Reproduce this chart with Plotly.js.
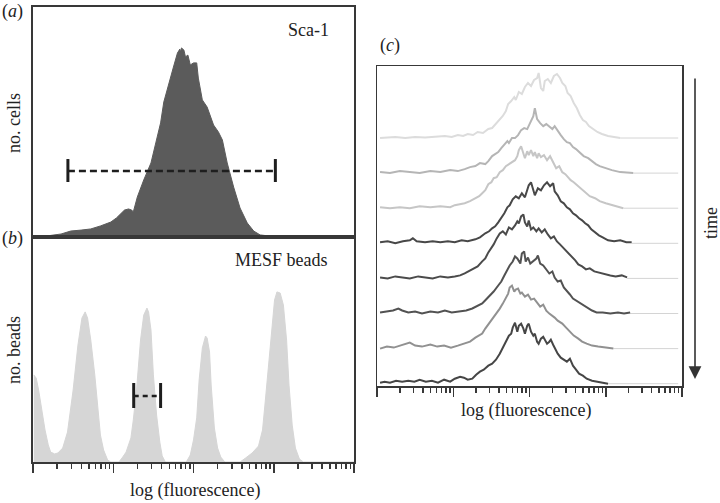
<!DOCTYPE html>
<html>
<head>
<meta charset="utf-8">
<script src="https://cdn.plot.ly/plotly-3.0.1.min.js"></script>
<style>html,body{margin:0;padding:0;background:#fff}#chart{width:720px;height:503px}</style>
</head>
<body>
<div id="chart"></div>
<script>
// ---------- Panel (a): Sca-1 histogram (x = log10 fluorescence, y = relative cell count) ----------
const scaLogF = [0.01,0.16,0.35,0.47,0.60,0.72,0.84,0.97,1.04,1.09,1.14,1.19,1.23,1.25,1.30,1.38,1.47,1.53,1.59,1.63,1.68,1.71,1.75,1.80,1.83,1.84,1.85,1.88,1.90,1.93,1.96,2.00,2.04,2.06,2.11,2.17,2.25,2.31,2.36,2.42,2.50,2.58,2.67,2.75,2.83,3.00,3.20,4.00];
const scaCount = [0.2,0.4,1.3,2.6,3.0,3.5,4.8,6.5,8.3,10.0,11.7,12.2,11.7,10.9,17.4,24.8,32.2,40.9,49.6,58.7,65.2,69.6,73.9,80.0,81.7,80.4,82.2,81.3,78.3,79.1,74.8,75.7,75.7,69.1,59.6,56.5,48.7,45.7,42.2,32.2,21.7,12.6,6.1,2.6,0.9,0.2,0,0];
const scaGateLogF = [0.435, 3.02];
const scaGateLevel = 28.7;
const scaGateCap = [23.9, 33.9];

// ---------- Panel (b): MESF beads ----------
const beadLogF = [0.01,0.04,0.07,0.11,0.15,0.19,0.22,0.27,0.31,0.37,0.43,0.50,0.56,0.61,0.65,0.68,0.72,0.77,0.81,0.84,0.88,0.93,0.97,
  1.07,1.11,1.16,1.22,1.25,1.29,1.34,1.38,1.42,1.44,1.47,1.50,1.54,1.58,1.61,1.65,
  1.91,1.96,2.00,2.04,2.07,2.11,2.15,2.17,2.20,2.22,2.26,2.30,2.34,2.39,
  2.58,2.65,2.73,2.81,2.86,2.89,2.93,2.97,3.01,3.04,3.08,3.12,3.16,3.19,3.23,3.27,3.32,3.37,4.00];
const beadCount = [38.7,37.3,32.0,23.1,14.2,7.6,4.4,3.6,4.0,6.2,13.3,32.0,52.0,64.0,66.7,64.0,54.2,38.7,23.1,12.0,5.3,0.9,0,
  0,1.8,4.4,10.7,18.7,32.0,54.2,65.3,68.4,66.7,58.7,38.7,20.9,8.9,2.7,0,
  0,3.1,9.8,19.6,36.4,50.7,56.0,55.1,48.9,34.2,15.1,6.2,2.2,0,
  0,1.8,4.0,7.1,14.2,25.3,40.9,58.7,72.0,75.6,75.1,69.8,54.2,34.2,16.4,6.2,1.3,0,0];
const beadGateLogF = [1.255, 1.59];
const beadGateLevel = 29.3;
const beadGateCap = [24.0, 35.1];

// ---------- Panel (c): histograms over time (top = earliest) ----------
const t1LogF = [0.04,0.24,0.37,0.50,0.63,0.76,0.89,0.98,1.06,1.13,1.19,1.26,1.32,1.39,1.46,1.51,1.56,1.61,1.65,1.69,1.72,1.76,1.80,1.82,1.86,1.90,1.94,1.98,2.02,2.06,2.10,2.12,2.15,2.18,2.20,2.24,2.28,2.32,2.36,2.40,2.43,2.47,2.50,2.54,2.58,2.62,2.66,2.70,2.74,2.78,2.83,2.89,2.95,3.03,3.11,3.19];
const t1Count = [0,1,0,1,0.5,1,2,1,3,2,4,3,6,5,9,10,14,18,22,27,34,37,41,38,46,44,51,55,52,58,60,65,50,47,57,59,55,62,64,60,55,52,45,42,35,30,23,18,16,12,9,6,4,2,1,0];
const t2LogF = [0.04,0.17,0.30,0.43,0.56,0.70,0.83,0.96,1.06,1.15,1.22,1.29,1.35,1.42,1.46,1.51,1.55,1.59,1.63,1.67,1.71,1.73,1.77,1.81,1.85,1.89,1.93,1.97,2.01,2.05,2.07,2.10,2.14,2.18,2.22,2.26,2.30,2.33,2.37,2.41,2.45,2.49,2.53,2.57,2.61,2.66,2.71,2.77,2.82,2.87,2.92,2.99,3.08,3.19,3.29,3.36];
const t2Count = [1,0,2,1,0,2,1,3,2,4,6,7,10,9,12,17,19,21,25,28,32,30,35,35,38,43,45,44,50,57,65,54,50,47,49,46,44,47,42,38,34,31,30,26,24,20,17,15,12,9,7,5,3,1,0,0];
const t3LogF = [0.04,0.17,0.30,0.43,0.56,0.70,0.83,0.96,1.02,1.09,1.15,1.22,1.29,1.34,1.38,1.42,1.46,1.50,1.53,1.57,1.61,1.65,1.69,1.73,1.77,1.81,1.84,1.86,1.89,1.92,1.94,1.97,1.99,2.02,2.05,2.07,2.10,2.12,2.15,2.19,2.23,2.27,2.31,2.35,2.39,2.43,2.47,2.50,2.54,2.58,2.64,2.69,2.74,2.79,2.86,2.92,3.00,3.08,3.16,3.23];
const t3Count = [1,0,1,0,2,1,2,1,3,4,5,7,10,12,15,18,24,26,30,31,36,38,42,44,46,48,52,58,62,54,50,57,53,58,52,56,50,55,51,53,48,52,46,40,42,36,34,31,28,26,22,18,15,12,10,7,5,3,1,0];
const t4LogF = [0.04,0.14,0.24,0.34,0.43,0.47,0.52,0.63,0.73,0.83,0.93,1.02,1.11,1.19,1.29,1.35,1.42,1.47,1.51,1.55,1.59,1.63,1.67,1.71,1.74,1.78,1.82,1.86,1.90,1.94,1.97,1.99,2.02,2.05,2.07,2.11,2.15,2.19,2.23,2.27,2.31,2.33,2.37,2.41,2.45,2.49,2.53,2.57,2.61,2.65,2.69,2.73,2.77,2.81,2.86,2.91,2.96,3.03,3.11,3.19,3.27,3.34];
const t4Count = [1,2,0,2,3,5,2,1,2,1,2,1,3,2,4,6,10,12,15,17,21,25,30,36,38,44,47,45,50,46,52,58,61,52,48,55,53,58,61,57,60,52,48,42,40,36,34,30,28,25,23,20,18,14,11,8,6,3,2,3,1,1];
const t5LogF = [0.04,0.14,0.24,0.34,0.43,0.54,0.63,0.73,0.83,0.93,1.02,1.09,1.15,1.22,1.27,1.32,1.38,1.42,1.46,1.50,1.53,1.57,1.61,1.65,1.69,1.73,1.77,1.81,1.84,1.86,1.89,1.92,1.94,1.97,1.99,2.02,2.05,2.09,2.12,2.16,2.20,2.24,2.28,2.32,2.36,2.40,2.44,2.48,2.52,2.56,2.60,2.64,2.69,2.74,2.79,2.85,2.90,2.98,3.06,3.13,3.21,3.28];
const t5Count = [1,0,2,1,0,2,1,0,2,1,2,3,5,8,10,12,17,20,26,30,34,40,45,47,44,51,49,53,57,55,62,64,56,52,58,49,51,47,50,46,49,44,40,42,37,34,31,28,25,22,18,14,12,9,10,7,6,4,3,2,3,1];
const t6LogF = [0.04,0.13,0.21,0.28,0.33,0.41,0.50,0.59,0.70,0.80,0.89,0.98,1.09,1.17,1.25,1.31,1.38,1.43,1.48,1.53,1.59,1.63,1.67,1.71,1.74,1.78,1.81,1.84,1.88,1.90,1.93,1.95,1.98,2.01,2.05,2.09,2.11,2.14,2.18,2.22,2.26,2.30,2.33,2.37,2.41,2.45,2.49,2.53,2.57,2.61,2.66,2.71,2.77,2.82,2.88,2.96,3.06,3.16,3.24,3.32];
const t6Count = [1,2,3,5,3,1,2,0,2,1,3,1,2,3,5,7,10,14,18,22,28,32,38,44,48,52,57,55,50,60,62,52,56,50,53,55,58,50,48,44,40,42,36,32,33,26,23,19,15,13,11,8,5,3,1,1,0,1,0,1];
const t7LogF = [0.04,0.13,0.22,0.30,0.37,0.43,0.50,0.59,0.70,0.79,0.88,0.97,1.06,1.15,1.22,1.29,1.34,1.38,1.42,1.46,1.50,1.53,1.57,1.61,1.65,1.69,1.72,1.74,1.77,1.80,1.82,1.85,1.88,1.90,1.94,1.98,2.02,2.06,2.10,2.14,2.18,2.22,2.26,2.30,2.33,2.37,2.43,2.48,2.53,2.58,2.64,2.69,2.75,2.82,2.90,2.99,3.10];
const t7Count = [0,2,1,3,5,6,3,2,4,2,3,1,3,5,7,11,13,15,20,24,29,31,35,40,45,50,55,61,63,57,59,60,55,56,52,54,49,50,46,42,44,38,35,33,31,28,25,21,17,13,10,7,5,3,2,1,0];
const t8LogF = [0.04,0.10,0.17,0.25,0.33,0.41,0.49,0.56,0.64,0.72,0.80,0.88,0.96,1.02,1.09,1.14,1.19,1.25,1.30,1.35,1.40,1.46,1.51,1.56,1.61,1.65,1.69,1.73,1.76,1.78,1.81,1.84,1.86,1.89,1.92,1.94,1.97,1.99,2.02,2.05,2.07,2.10,2.12,2.15,2.18,2.20,2.23,2.26,2.28,2.31,2.33,2.37,2.41,2.45,2.49,2.53,2.57,2.61,2.65,2.70,2.75,2.82,2.88,2.95,3.03];
const t8Count = [1,2,1,3,2,3,2,4,2,3,1,4,2,5,7,6,4,5,9,12,14,18,20,24,30,36,42,48,50,56,61,52,58,60,55,50,58,60,52,48,50,42,40,45,47,44,40,42,44,39,36,30,26,24,22,25,18,14,10,8,5,3,2,1,0];

const decades = [0, 1, 2, 3, 4];
const tailEnd = 3.95;

// ---------- styles ----------
const timeColors = ['#dcdcdc', '#b5b5b5', '#c6c6c6', '#484848', '#4b4b4b', '#525252', '#919191', '#464646'];
const stackStep = 35.1;
const stackFloor = 2.3;
const serif = 'Liberation Serif, Times New Roman, serif';
const frame = '#383838';

const minorTicks = [];
for (let d = 0; d < 4; d++) for (let k = 2; k <= 9; k++) minorTicks.push(d + Math.log10(k));

const timeX = [t1LogF, t2LogF, t3LogF, t4LogF, t5LogF, t6LogF, t7LogF, t8LogF];
const timeY = [t1Count, t2Count, t3Count, t4Count, t5Count, t6Count, t7Count, t8Count];

const traces = [];
// (a)
traces.push({x: scaLogF, y: scaCount, xaxis: 'x', yaxis: 'y', type: 'scatter', mode: 'lines',
  fill: 'tozeroy', fillcolor: '#5b5b5b', line: {color: '#5b5b5b', width: 1}, hoverinfo: 'skip'});
traces.push({x: scaGateLogF, y: [scaGateLevel, scaGateLevel], xaxis: 'x', yaxis: 'y', mode: 'lines',
  line: {color: '#1e1e1e', width: 2.5, dash: '7px,4px'}});
scaGateLogF.forEach(v => traces.push({x: [v, v], y: scaGateCap, xaxis: 'x', yaxis: 'y', mode: 'lines',
  line: {color: '#1e1e1e', width: 3}}));
// (b)
traces.push({x: beadLogF, y: beadCount, xaxis: 'x2', yaxis: 'y2', type: 'scatter', mode: 'lines',
  fill: 'tozeroy', fillcolor: '#d6d6d6', line: {color: '#d6d6d6', width: 1}});
traces.push({x: beadGateLogF, y: [beadGateLevel, beadGateLevel], xaxis: 'x2', yaxis: 'y2', mode: 'lines',
  line: {color: '#1e1e1e', width: 2.5, dash: '5px,4px'}});
beadGateLogF.forEach(v => traces.push({x: [v, v], y: beadGateCap, xaxis: 'x2', yaxis: 'y2', mode: 'lines',
  line: {color: '#1e1e1e', width: 3}}));
// (c)
const n = timeX.length;
for (let i = 0; i < n; i++) {
  const off = stackFloor + (n - 1 - i) * stackStep;
  const xs = timeX[i];
  traces.push({x: [xs[xs.length - 1], tailEnd], y: [off, off], xaxis: 'x3', yaxis: 'y3', mode: 'lines',
    line: {color: '#d4d4d4', width: 1}});
}
for (let i = 0; i < n; i++) {
  const off = stackFloor + (n - 1 - i) * stackStep;
  traces.push({x: timeX[i], y: timeY[i].map(v => v + off), xaxis: 'x3', yaxis: 'y3', mode: 'lines',
    line: {color: timeColors[i], width: 2}});
}

const baseAxis = {showline: true, mirror: true, linecolor: frame, linewidth: 2, showgrid: false,
  zeroline: false, showticklabels: false, ticks: '', fixedrange: true};
const tickAxis = Object.assign({}, baseAxis, {
  ticks: 'outside', tickmode: 'array', tickvals: decades, ticklen: 9, tickwidth: 1.5, tickcolor: frame,
  minor: {tickmode: 'array', tickvals: minorTicks, ticks: 'outside', ticklen: 5, tickwidth: 1.5, tickcolor: frame}
});

const px = v => v / 720, py = v => 1 - v / 503;
function ann(text, x, y, extra) {
  return Object.assign({text: text, x: px(x), y: py(y), xref: 'paper', yref: 'paper', showarrow: false,
    xanchor: 'center', yanchor: 'middle', font: {family: serif, size: 18, color: '#222'}}, extra || {});
}

const layout = {
  width: 720, height: 503, margin: {l: 0, r: 0, t: 0, b: 0},
  paper_bgcolor: '#fff', plot_bgcolor: '#fff', showlegend: false,
  font: {family: serif},
  xaxis: Object.assign({}, baseAxis, {domain: [px(33), px(354)], range: [0, 4], anchor: 'y'}),
  yaxis: Object.assign({}, baseAxis, {domain: [py(237), py(7)], range: [0, 100], anchor: 'x'}),
  xaxis2: Object.assign({}, tickAxis, {domain: [px(33), px(354)], range: [0, 4], anchor: 'y2'}),
  yaxis2: Object.assign({}, baseAxis, {domain: [py(462), py(237)], range: [0, 100], anchor: 'x2'}),
  xaxis3: Object.assign({}, tickAxis, {domain: [px(377), px(682)], range: [0, 4], anchor: 'y3', linewidth: 1.5}),
  yaxis3: Object.assign({}, baseAxis, {domain: [py(386), py(66)], range: [0, 320], anchor: 'x3', linewidth: 1.5}),
  annotations: [
    ann('(<i>a</i>)', 12, 12),
    ann('(<i>b</i>)', 12, 239),
    ann('(<i>c</i>)', 390, 45),
    ann('Sca-1', 308, 30),
    ann('MESF beads', 281, 260),
    ann('no. cells', 14, 123, {textangle: -90}),
    ann('no. beads', 14, 350, {textangle: -90}),
    ann('log (fluorescence)', 195, 490),
    ann('log (fluorescence)', 526, 410),
    ann('time', 711, 223, {textangle: -90}),
    {x: px(695), y: py(379), xref: 'paper', yref: 'paper', ax: 0, ay: -302, axref: 'pixel', ayref: 'pixel',
     text: '', showarrow: true, arrowhead: 2, arrowsize: 1.6, arrowwidth: 1.6, arrowcolor: '#333'}
  ]
};

Plotly.newPlot('chart', traces, layout, {staticPlot: true, displayModeBar: false});
</script>
</body>
</html>
